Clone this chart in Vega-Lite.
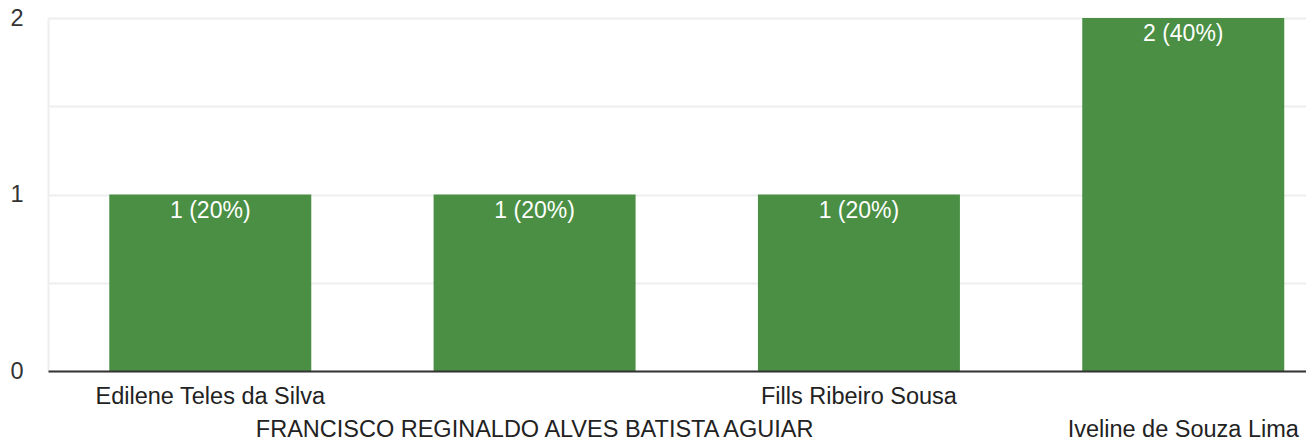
{
  "$schema": "https://vega.github.io/schema/vega-lite/v6.json",
  "width": 1258,
  "height": 353,
  "autosize": {"type": "none"},
  "padding": {"left": 48, "top": 18, "right": 0, "bottom": 69},
  "background": "white",
  "config": {"view": {"stroke": null}, "font": "Liberation Sans"},
  "data": {
    "values": [
      {"name": "Edilene Teles da Silva", "count": 1, "label": "1 (20%)"},
      {"name": "FRANCISCO REGINALDO ALVES BATISTA AGUIAR", "count": 1, "label": "1 (20%)"},
      {"name": "Fills Ribeiro Sousa", "count": 1, "label": "1 (20%)"},
      {"name": "Iveline de Souza Lima", "count": 2, "label": "2 (40%)"}
    ]
  },
  "encoding": {
    "x": {
      "field": "name",
      "type": "nominal",
      "sort": null,
      "scale": {"paddingInner": 0.3772, "paddingOuter": 0.128, "align": 0.738},
      "axis": {
        "title": null,
        "labelAngle": 0,
        "labelFontSize": 23.5,
        "labelColor": "#222222",
        "labelFont": "Liberation Sans",
        "labelOverlap": false,
        "labelLimit": 0,
        "labelBaseline": "top",
        "labelPadding": {"condition": {"test": "datum.value == 'FRANCISCO REGINALDO ALVES BATISTA AGUIAR' || datum.value == 'Iveline de Souza Lima'", "value": 46}, "value": 13},
        "ticks": false,
        "domainColor": "#333333",
        "domainWidth": 2,
        "grid": false,
        "zindex": 1
      }
    },
    "y": {
      "field": "count",
      "type": "quantitative",
      "scale": {"domain": [0, 2], "nice": false},
      "axis": {
        "title": null,
        "values": [0, 0.5, 1, 1.5, 2],
        "labelExpr": "datum.value % 1 == 0 ? format(datum.value, 'd') : ''",
        "labelFontSize": 23.5,
        "labelColor": "#333333",
        "labelFont": "Liberation Sans",
        "labelPadding": 25,
        "ticks": false,
        "domainColor": "#eeeeee",
        "domainWidth": 2,
        "gridColor": "#eeeeee",
        "gridWidth": 2
      }
    }
  },
  "layer": [
    {"mark": {"type": "bar", "color": "#4a8f43"}},
    {
      "mark": {"type": "text", "baseline": "top", "dy": 5, "color": "white", "fontSize": 23, "font": "Liberation Sans"},
      "encoding": {"text": {"field": "label"}}
    }
  ]
}
